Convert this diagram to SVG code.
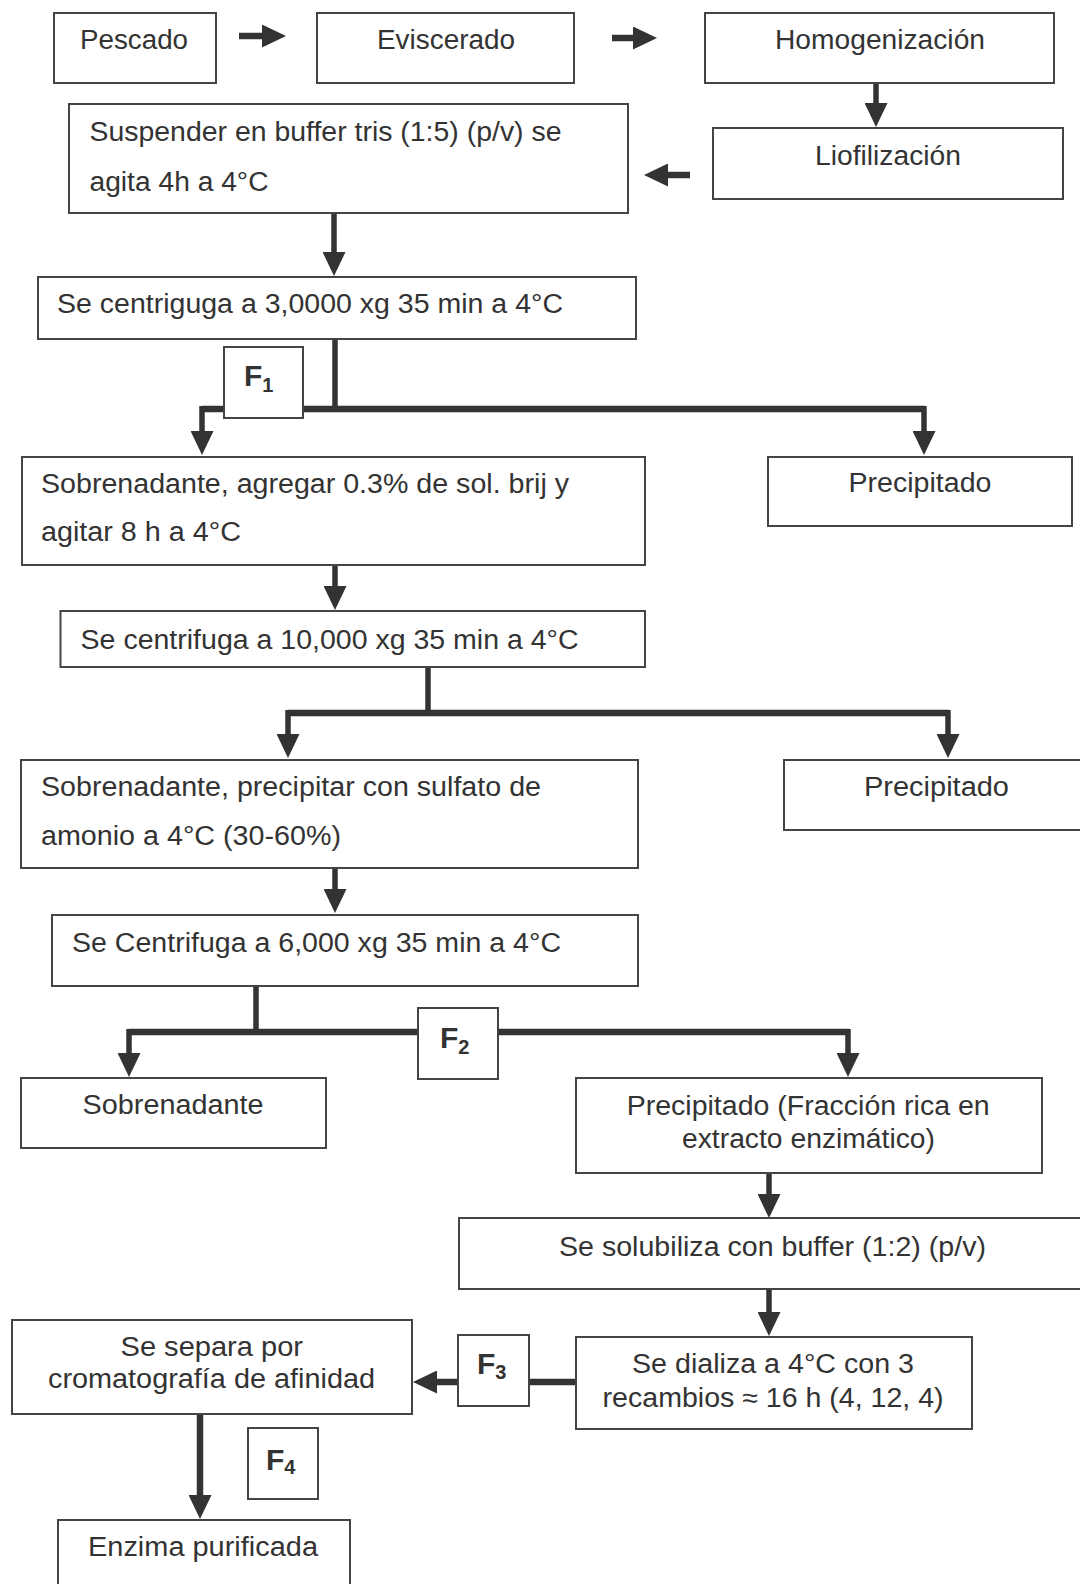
<svg xmlns="http://www.w3.org/2000/svg" width="1080" height="1584" viewBox="0 0 1080 1584">
<style>
.box{fill:#fff;stroke:#444;stroke-width:2}
.t{font-family:"Liberation Sans",Arial,sans-serif;font-size:27px;fill:#333}
.f{font-family:"Liberation Sans",Arial,sans-serif;font-size:30px;font-weight:bold;fill:#333}
.fs{font-size:20px}
.c{fill:none;stroke:#333;stroke-width:5.5}
.b{fill:none;stroke:#333;stroke-width:6.5}
</style>
<defs>
<marker id="ah" markerUnits="userSpaceOnUse" markerWidth="24" markerHeight="23" refX="1" refY="11.5" orient="auto">
<path d="M0,0 L24,11.5 L0,23 Z" fill="#333"/>
</marker>
</defs>
<rect width="1080" height="1584" fill="#fff"/>
<g id="connectors">
<path class="b" d="M239,36 H263" marker-end="url(#ah)"/>
<path class="b" d="M612,38 H634" marker-end="url(#ah)"/>
<path class="c" d="M876,83 V104" marker-end="url(#ah)"/>
<path class="b" d="M690,175 H667" marker-end="url(#ah)"/>
<path class="c" d="M334,213 V253" marker-end="url(#ah)"/>
<path class="c" d="M335,339 V409"/>
<path class="b" d="M202,409 H925"/>
<path class="c" d="M202,406 V432" marker-end="url(#ah)"/>
<path class="c" d="M924,406 V432" marker-end="url(#ah)"/>
<path class="c" d="M335,565 V587" marker-end="url(#ah)"/>
<path class="c" d="M428,667 V713"/>
<path class="b" d="M288,713 H949"/>
<path class="c" d="M288,710 V735" marker-end="url(#ah)"/>
<path class="c" d="M948,710 V735" marker-end="url(#ah)"/>
<path class="c" d="M335,868 V890" marker-end="url(#ah)"/>
<path class="c" d="M256,986 V1032"/>
<path class="b" d="M129,1032 H849"/>
<path class="c" d="M129,1029 V1054" marker-end="url(#ah)"/>
<path class="c" d="M848,1029 V1054" marker-end="url(#ah)"/>
<path class="c" d="M769,1173 V1195" marker-end="url(#ah)"/>
<path class="c" d="M769,1289 V1313" marker-end="url(#ah)"/>
<path class="b" d="M576,1382 H436" marker-end="url(#ah)"/>
<path class="b" d="M200,1414 V1496" marker-end="url(#ah)"/>
</g>
<g id="n-pescado"><rect class="box" x="54" y="13" width="162" height="70"/><text class="t" x="80" y="49" textLength="108" lengthAdjust="spacingAndGlyphs">Pescado</text></g>
<g id="n-eviscerado"><rect class="box" x="317" y="13" width="257" height="70"/><text class="t" x="377" y="49" textLength="138" lengthAdjust="spacingAndGlyphs">Eviscerado</text></g>
<g id="n-homogenizacion"><rect class="box" x="705" y="13" width="349" height="70"/><text class="t" x="775" y="49" textLength="210" lengthAdjust="spacingAndGlyphs">Homogenización</text></g>
<g id="n-liofilizacion"><rect class="box" x="713" y="128" width="350" height="71"/><text class="t" x="815" y="165" textLength="146" lengthAdjust="spacingAndGlyphs">Liofilización</text></g>
<g id="n-suspender"><rect class="box" x="69" y="104" width="559" height="109"/><text class="t" x="89.5" y="141" textLength="472" lengthAdjust="spacingAndGlyphs">Suspender en buffer tris (1:5) (p/v) se</text><text class="t" x="89.5" y="191" textLength="179" lengthAdjust="spacingAndGlyphs">agita 4h a 4°C</text></g>
<g id="n-centrifuga1"><rect class="box" x="38" y="277" width="598" height="62"/><text class="t" x="57" y="313" textLength="506" lengthAdjust="spacingAndGlyphs">Se centriguga a 3,0000 xg 35 min a 4°C</text></g>
<g id="n-f1"><rect class="box" x="224" y="347" width="79" height="71"/><text class="f" x="244" y="386">F<tspan class="fs" dy="6">1</tspan></text></g>
<g id="n-sobrenadante1"><rect class="box" x="22" y="457" width="623" height="108"/><text class="t" x="41" y="493" textLength="528" lengthAdjust="spacingAndGlyphs">Sobrenadante, agregar 0.3% de sol. brij y</text><text class="t" x="41" y="541" textLength="200" lengthAdjust="spacingAndGlyphs">agitar 8 h a 4°C</text></g>
<g id="n-precipitado1"><rect class="box" x="768" y="457" width="304" height="69"/><text class="t" x="848.5" y="492" textLength="143" lengthAdjust="spacingAndGlyphs">Precipitado</text></g>
<g id="n-centrifuga2"><rect class="box" x="60.5" y="611" width="584.5" height="56"/><text class="t" x="80.6" y="649" textLength="498" lengthAdjust="spacingAndGlyphs">Se centrifuga a 10,000 xg 35 min a 4°C</text></g>
<g id="n-sobrenadante2"><rect class="box" x="21" y="760" width="617" height="108"/><text class="t" x="41" y="796" textLength="500" lengthAdjust="spacingAndGlyphs">Sobrenadante, precipitar con sulfato de</text><text class="t" x="41" y="845" textLength="300" lengthAdjust="spacingAndGlyphs">amonio a 4°C (30-60%)</text></g>
<g id="n-precipitado2"><rect class="box" x="784" y="760" width="310" height="70"/><text class="t" x="864" y="796" textLength="145" lengthAdjust="spacingAndGlyphs">Precipitado</text></g>
<g id="n-centrifuga3"><rect class="box" x="52" y="915" width="586" height="71"/><text class="t" x="72" y="952" textLength="489" lengthAdjust="spacingAndGlyphs">Se Centrifuga a 6,000 xg 35 min a 4°C</text></g>
<g id="n-f2"><rect class="box" x="418" y="1008" width="80" height="71"/><text class="f" x="440" y="1048">F<tspan class="fs" dy="6">2</tspan></text></g>
<g id="n-sobrenadante3"><rect class="box" x="21" y="1078" width="305" height="70"/><text class="t" x="82.6" y="1114" textLength="181" lengthAdjust="spacingAndGlyphs">Sobrenadante</text></g>
<g id="n-precipitado3"><rect class="box" x="576" y="1078" width="466" height="95"/><text class="t" x="626.7" y="1115" textLength="363" lengthAdjust="spacingAndGlyphs">Precipitado (Fracción rica en</text><text class="t" x="682" y="1148" textLength="253" lengthAdjust="spacingAndGlyphs">extracto enzimático)</text></g>
<g id="n-solubiliza"><rect class="box" x="459" y="1218" width="630" height="71"/><text class="t" x="559" y="1256" textLength="427" lengthAdjust="spacingAndGlyphs">Se solubiliza con buffer (1:2) (p/v)</text></g>
<g id="n-dializa"><rect class="box" x="576" y="1337" width="396" height="92"/><text class="t" x="632" y="1373" textLength="282" lengthAdjust="spacingAndGlyphs">Se dializa a 4°C con 3</text><text class="t" x="602.6" y="1407" textLength="341" lengthAdjust="spacingAndGlyphs">recambios ≈ 16 h (4, 12, 4)</text></g>
<g id="n-f3"><rect class="box" x="458" y="1335" width="71" height="71"/><text class="f" x="477" y="1374">F<tspan class="fs" dy="5">3</tspan></text></g>
<g id="n-separa"><rect class="box" x="12" y="1320" width="400" height="94"/><text class="t" x="120.5" y="1356" textLength="182.5" lengthAdjust="spacingAndGlyphs">Se separa por</text><text class="t" x="48" y="1388" textLength="327" lengthAdjust="spacingAndGlyphs">cromatografía de afinidad</text></g>
<g id="n-f4"><rect class="box" x="248" y="1428" width="70" height="71"/><text class="f" x="266" y="1470">F<tspan class="fs" dy="4">4</tspan></text></g>
<g id="n-enzima"><rect class="box" x="58" y="1520" width="292" height="72"/><text class="t" x="88" y="1556" textLength="230" lengthAdjust="spacingAndGlyphs">Enzima purificada</text></g>
</svg>
